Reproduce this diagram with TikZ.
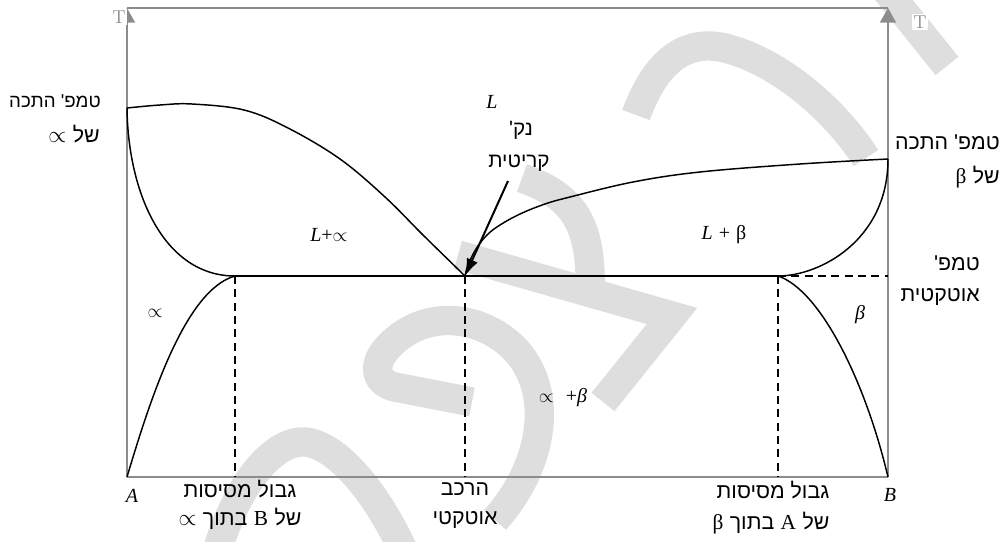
\documentclass[tikz,border=0pt]{standalone}
\usepackage{fontspec}
\newfontfamily\heb[Script=Hebrew]{Liberation Sans}
\newfontfamily\grk{Liberation Serif}
\TeXXeTstate=1
\usetikzlibrary{arrows.meta}
\newcommand{\hb}[1]{{\heb\beginR #1\endR}}
\newcommand{\mi}[1]{{\grk\itshape #1}}
\begin{document}
\begin{tikzpicture}[x=0.75pt,y=-0.75pt,
  wm/.style={draw=black!13, line width=22pt, line cap=butt},
  frame/.style={draw=black!45, line width=1.4pt},
  curve/.style={draw=black, line width=1.1pt},
  eut/.style={draw=black, line width=1.5pt},
  dashln/.style={draw=black, line width=1.6pt, dash pattern=on 6pt off 4pt},
  lbl/.style={inner sep=0pt, font=\fontsize{16}{18}\selectfont},
  mlbl/.style={inner sep=0pt, font=\fontsize{15}{17}\selectfont},
  tlbl/.style={inner sep=1pt, fill=white, text=black!45, font=\fontsize{14}{16}\selectfont},
  axarrow/.style={-{Triangle[length=11pt,width=12pt]}}]
\useasboundingbox (0,0) rectangle (1007,542);
% watermark
\draw[wm] (878,-20) -- (947,66);
\draw[wm] (636,115) .. controls (658,55) and (690,40) .. (725,48) .. controls (780,62) and (835,110) .. (866,158);
\draw[wm] (522,178) .. controls (570,195) and (592,220) .. (590,290);
\draw[wm] (458,255) -- (672,316) -- (603,402);
\draw[wm] (495,520) .. controls (540,470) and (555,400) .. (520,355) .. controls (490,318) and (430,305) .. (390,345) .. controls (370,365) and (375,385) .. (400,388) -- (472,402);
\draw[wm] (218,548) .. controls (243,470) and (280,440) .. (305,442) .. controls (340,445) and (380,500) .. (402,548);
% key points
\coordinate (A0) at (127,477);
\coordinate (B0) at (888,477);
\coordinate (TL) at (127,8);
\coordinate (TR) at (888,8);
\coordinate (MA) at (127,108);
\coordinate (MB) at (888,159);
\coordinate (E) at (465,276);
\coordinate (SA) at (235,276);
\coordinate (SB) at (778,276);
\coordinate (KA) at (508,181);
% frame
\draw[frame] (TL) -- (TR);
\draw[frame] (A0) -- (B0);
\draw[frame,axarrow] (A0) -- (TL);
\draw[frame,axarrow] (B0) -- (TR);
\node[tlbl] (tl) at (119,17) {T};
\node[tlbl] (tr) at (920,22) {T};
% phase boundaries
\draw[curve] plot[smooth,tension=0.6] coordinates {(127,108) (160,105) (192,104) (244,110) (288,128) (340,159) (385,197) (423,235) (465,276)};
\draw[curve] (MA) .. controls (128,195) and (165,276) .. (SA);
\draw[curve] (A0) .. controls (150,400) and (185,290) .. (SA);
\draw[curve] plot[smooth,tension=0.6] coordinates {(465,276) (468,265) (476,249) (487,235) (500,225) (520,214) (545,204) (570,197) (633,182) (700,172) (800,164) (888,159)};
\draw[curve] (MB) .. controls (888,240) and (820,276) .. (SB);
\draw[curve] (SB) .. controls (820,290) and (865,380) .. (B0);
\draw[eut] (SA) -- (SB);
\draw[dashln] (SA) -- (SA |- A0);
\draw[dashln] (E) -- (E |- A0);
\draw[dashln] (SB) -- (SB |- A0);
\draw[dashln] (SB) -- (MB |- SB);
% arrow to critical point
\draw[line width=1.5pt, -{Latex[length=13pt,width=9pt]}] (KA) -- (E);
% labels
\node[lbl,anchor=east,font=\fontsize{14}{16}\selectfont] (ma1) at (101,101) {\hb{טמפ' התכה}};
\node[lbl,anchor=east] (ma2) at (100,134) {$\propto$ \hb{של}};
\node[lbl,anchor=east] (mb1) at (1000,142) {\hb{טמפ' התכה}};
\node[lbl,anchor=east] (mb2) at (1000,177) {{\grk β} \hb{של}};
\node[lbl,anchor=east] (et1) at (980,263) {\hb{טמפ'}};
\node[lbl,anchor=east] (et2) at (980,297) {\hb{אוטקטית}};
\node[mlbl] (L) at (492,102) {\mi{L}};
\node[lbl,font=\fontsize{15.5}{17}\selectfont] (nk) at (521,130) {\hb{נק'}};
\node[lbl,font=\fontsize{15.5}{17}\selectfont] (kr) at (519,163) {\hb{קריטית}};
\node[mlbl] (La) at (329,235) {\mi{L}{\grk +}$\propto$};
\node[mlbl] (Lb) at (724,235) {\mi{L} {\grk +} {\grk β}};
\node[mlbl] (al) at (155,313) {$\propto$};
\node[mlbl] (be) at (860,315) {\mi{β}};
\node[mlbl] (ab) at (563,398) {$\propto$\ \ {\grk +}\mi{β}};
\node[mlbl] (A) at (132,496) {\mi{A}};
\node[mlbl] (B) at (890,495) {\mi{B}};
\node[lbl] (g1) at (240,489) {\hb{גבול מסיסות}};
\node[lbl] (g2) at (240,519) {$\propto$ \hb{בתוך} {\grk B} \hb{של}};
\node[lbl] (h1) at (465,489) {\hb{הרכב}};
\node[lbl] (h2) at (465,520) {\hb{אוטקטי}};
\node[lbl] (r1) at (773,490) {\hb{גבול מסיסות}};
\node[lbl] (r2) at (771,523) {{\grk β} \hb{בתוך} {\grk A} \hb{של}};
\end{tikzpicture}
\end{document}
